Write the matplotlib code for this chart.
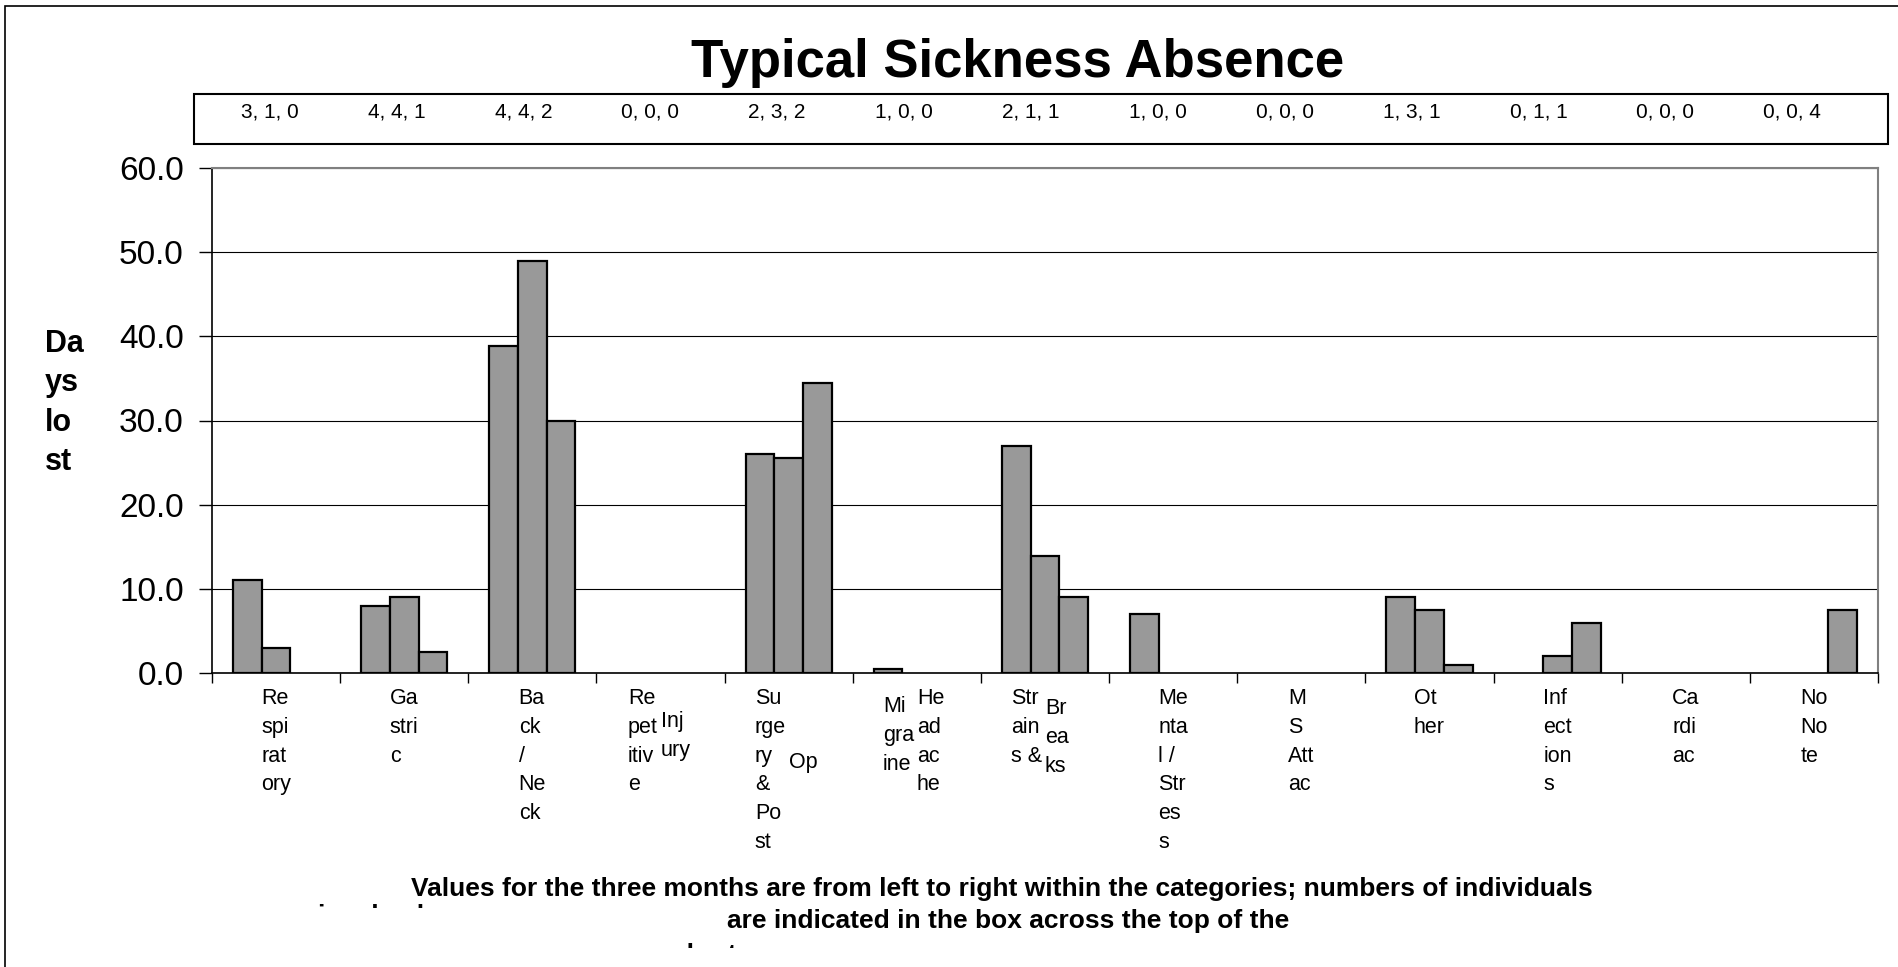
import numpy as np
import matplotlib
matplotlib.use('Agg')
import matplotlib.pyplot as plt
from matplotlib.patches import Rectangle
from matplotlib.transforms import Bbox, TransformedBbox, blended_transform_factory

plt.rcParams['font.family'] = ['Liberation Sans', 'DejaVu Sans']

# Datos: dias perdidos por categoria, tres meses
mes1 = [11.0, 8.0, 38.9, 0, 26.0, 0.5, 27.0, 7.0, 0, 9.0, 0, 0, 0]
mes2 = [3.0, 9.0, 49.0, 0, 25.5, 0, 13.9, 0, 0, 7.5, 2.0, 0, 0]
mes3 = [0, 2.5, 30.0, 0, 34.4, 0, 9.0, 0, 0, 1.0, 6.0, 0, 7.5]

# numero de personas por categoria (caja superior)
personas = ['3, 1, 0', '4, 4, 1', '4, 4, 2', '0, 0, 0', '2, 3, 2', '1, 0, 0', '2, 1, 1',
            '1, 0, 0', '0, 0, 0', '1, 3, 1', '0, 1, 1', '0, 0, 0', '0, 0, 4']

# etiquetas tal como salen cortadas en el original
etiquetas = [
    ['Re\nspi\nrat\nory'],
    ['Ga\nstri\nc'],
    ['Ba\nck\n/\nNe\nck'],
    ['Re\npet\nitiv\ne', 'Inj\nury'],
    ['Su\nrge\nry\n&\nPo\nst', 'Op'],
    ['Mi\ngra\nine', 'He\nad\nac\nhe'],
    ['Str\nain\ns &', 'Br\nea\nks'],
    ['Me\nnta\nl /\nStr\nes\ns'],
    ['M\nS\nAtt\nac'],
    ['Ot\nher'],
    ['Inf\nect\nion\ns'],
    ['Ca\nrdi\nac'],
    ['No\nNo\nte'],
]
# desplazamiento vertical (en lineas) de cada columna de texto
desplaz = [[0], [0], [0], [0, 0.8], [0, 2.25], [0.28, 0], [0, 0.35],
           [0], [0], [0], [0], [0], [0]]

W, H = 1898, 967
fig = plt.figure(figsize=(W / 100, H / 100), dpi=100)
ax = fig.add_axes([212 / W, 1 - 673 / H, (1878 - 212) / W, (673 - 168) / H])

x = np.arange(len(mes1))
ancho = 0.224
for k, serie in enumerate([mes1, mes2, mes3]):
    lw = [1.6 if v > 0 else 0 for v in serie]
    ax.bar(x + (k - 1) * ancho, serie, width=ancho, color='#999999',
           edgecolor='black', linewidth=lw, zorder=3)

ax.set_xlim(-0.5, len(mes1) - 0.5)
ax.set_ylim(0, 60)
ax.set_yticks(np.arange(0, 61, 10))
ax.set_yticklabels(['%.1f' % v for v in np.arange(0, 61, 10)], fontsize=24)
ax.set_xticks(np.arange(-0.5, len(mes1), 1.0))
ax.set_xticklabels([])
ax.tick_params(axis='y', length=9.4, width=1, pad=11)
ax.tick_params(axis='x', length=7, width=1)
ax.yaxis.grid(True, color='black', linewidth=0.8, zorder=0)
ax.set_axisbelow(True)
for lado in ['top', 'right']:
    ax.spines[lado].set_color('#808080')
    ax.spines[lado].set_linewidth(1.5)
ax.spines['left'].set_linewidth(1.2)
ax.spines['bottom'].set_linewidth(1.2)

# etiquetas de categoria debajo del eje
fs_cat = 15.5
alto_linea = 20.5
for i, cols in enumerate(etiquetas):
    offs = desplaz[i]
    if len(cols) == 1:
        pos = [(cols[0], 0, 'center', offs[0])]
    else:
        pos = [(cols[0], -2, 'right', offs[0]), (cols[1], 0, 'left', offs[1])]
    for txt, dx, ha, off in pos:
        ax.annotate(txt, xy=(i, 0), xycoords=('data', 'axes fraction'),
                    xytext=(dx, -11 - off * alto_linea), textcoords='offset points',
                    ha=ha, va='top', multialignment='left', fontsize=fs_cat,
                    linespacing=1.48)

# caja con numero de personas
fig.add_artist(Rectangle((194 / W, 1 - 144 / H), (1888 - 194) / W, 50 / H,
                         transform=fig.transFigure, fill=False, edgecolor='black', linewidth=1.5))
tr = blended_transform_factory(ax.transData, fig.transFigure)
for i, txt in enumerate(personas):
    fig.text(i - 0.05 - 0.01 * i, 1 - 112 / H, txt, transform=tr, ha='center', va='center',
             fontsize=15)

# marco exterior
fig.add_artist(Rectangle((5 / W, -0.05), 1.0, 1.05 - 6 / H, transform=fig.transFigure,
                         fill=False, edgecolor='black', linewidth=1.2))

fig.text(1018 / W, 1 - 63 / H, 'Typical Sickness Absence', ha='center', va='center',
         fontsize=38, fontweight='bold')
fig.text(45 / W, 1 - 403 / H, 'Da\nys\nlo\nst', ha='left', va='center',
         multialignment='left', fontsize=22, fontweight='bold', linespacing=1.42)

# nota al pie (lineas parcialmente tapadas como en el original)
fig.text(1002 / W, 1 - 889 / H,
         'Values for the three months are from left to right within the categories; numbers of individuals',
         ha='center', va='center', fontsize=19, fontweight='bold')
t = fig.text(317 / W, 1 - 923 / H, 'involved', ha='left', va='baseline',
             fontsize=19, fontweight='bold')
t.set_clip_box(TransformedBbox(Bbox([[0, 1 - 908 / H], [1, 1 - 899 / H]]), fig.transFigure))
fig.text(1008 / W, 1 - 921 / H, 'are indicated in the box across the top of the',
         ha='center', va='center', fontsize=19, fontweight='bold')
t2 = fig.text(672 / W, 1 - 962 / H, 'chart', ha='left', va='baseline',
              fontsize=19, fontweight='bold')
t2.set_clip_box(TransformedBbox(Bbox([[0, 1 - 948 / H], [1, 1 - 938 / H]]), fig.transFigure))

fig.savefig('out.png', dpi=100)
